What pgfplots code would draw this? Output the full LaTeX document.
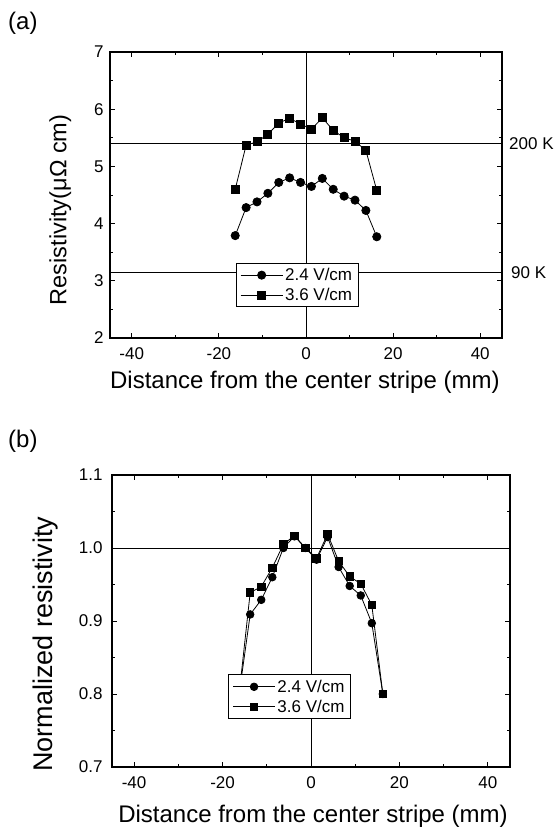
\documentclass[border=0pt]{standalone}
\usepackage{fontspec}
\setmainfont{Liberation Sans}
\usepackage{pgfplots}
\pgfplotsset{compat=1.18}
\newcommand\tickfont{\fontsize{17}{20}\selectfont}
\newcommand\labfont{\fontsize{24}{27}\selectfont}
\pgfplotsset{
  myaxis/.style={
    scale only axis,
    anchor=south west,
    xmin=-45, xmax=45,
    xtick={-40,-20,0,20,40},
    minor x tick num=1,
    axis line style={line width=1.1pt},
    every tick/.style={black, line width=0.9pt},
    major tick length=5pt, minor tick length=3pt,
    /pgf/number format/assume math mode=true,
    every tick label/.append style={font=\tickfont},
    xticklabel style={yshift=-6pt},
    every axis x label/.append style={font=\labfont},
    xlabel={Distance from the center stripe (mm)},
    legend cell align=left,
    legend style={draw=black, fill=white, line width=0.9pt, font=\tickfont, inner xsep=4pt, inner ysep=3pt, row sep=2pt, anchor=north west},
    legend image code/.code={\draw[mark repeat=2,mark phase=2] plot coordinates {(0pt,0pt) (21pt,0pt) (42pt,0pt)};},
    clip=false,
  },
  refline/.style={black, line width=0.8pt, forget plot, mark=none},
  ser/.style={black, line width=0.8pt, mark options={fill=black, solid}},
}
\begin{document}
\begin{tikzpicture}
\path[use as bounding box] (0pt,0pt) rectangle (558pt,-830pt);
\node[anchor=north west, inner sep=0pt] at (8pt,-12pt) {\fontsize{24}{26}\selectfont (a)};
\node[anchor=north west, inner sep=0pt] at (8pt,-430pt) {\fontsize{24}{26}\selectfont (b)};

\begin{axis}[myaxis, at={(110pt,-338pt)}, width=392pt, height=286pt,
  ymin=2, ymax=7, ytick={2,3,4,5,6,7}, minor y tick num=1,
  yticklabel style={xshift=-3pt},
  xlabel style={at={(axis description cs:0.497,-0.155)}, anchor=center},
  ylabel={Resistivity(μΩ cm)},
  ylabel style={font=\fontsize{23.5}{26}\selectfont, at={(axis description cs:-0.127,0.448)}, anchor=center},
  legend style={at={(0.321,0.263)}}]
\addplot[refline] coordinates {(-45,5.4) (45,5.4)};
\addplot[refline] coordinates {(-45,3.15) (45,3.15)};
\addplot[refline] coordinates {(0,2) (0,7)};
\addplot[ser, mark=*, mark size=4.1pt] coordinates {
(-16.25,3.79) (-13.75,4.28) (-11.25,4.38) (-8.75,4.53) (-6.25,4.72) (-3.75,4.80) (-1.25,4.72)
(1.25,4.65) (3.75,4.79) (6.25,4.60) (8.75,4.48) (11.25,4.41) (13.75,4.23) (16.25,3.77)};
\addplot[ser, mark=square*, mark size=4pt] coordinates {
(-16.25,4.60) (-13.75,5.37) (-11.25,5.43) (-8.75,5.56) (-6.25,5.76) (-3.75,5.84) (-1.25,5.74)
(1.25,5.65) (3.75,5.85) (6.25,5.63) (8.75,5.50) (11.25,5.44) (13.75,5.28) (16.25,4.58)};
\legend{2.4 V/cm, 3.6 V/cm}
\node[anchor=west, inner sep=0pt, xshift=7pt] at (axis cs:45,5.4) {\tickfont 200 K};
\node[anchor=west, inner sep=0pt, xshift=9pt] at (axis cs:45,3.15) {\tickfont 90 K};
\end{axis}

\begin{axis}[myaxis, at={(112pt,-767pt)}, width=398pt, height=292pt,
  ymin=0.7, ymax=1.1, ytick={0.7,0.8,0.9,1.0,1.1}, minor y tick num=1,
  yticklabel style={xshift=-6pt, /pgf/number format/fixed, /pgf/number format/fixed zerofill, /pgf/number format/precision=1},
  xlabel style={at={(axis description cs:0.505,-0.168)}, anchor=center},
  ylabel={Normalized resistivity},
  ylabel style={font=\fontsize{27}{30}\selectfont, at={(axis description cs:-0.166,0.42)}, anchor=center},
  legend style={at={(0.292,0.317)}}]
\addplot[refline] coordinates {(-45,1.0) (45,1.0)};
\addplot[refline] coordinates {(0,0.7) (0,1.1)};
\addplot[ser, mark=*, mark size=3.8pt] coordinates {
(-16.25,0.80) (-13.75,0.909) (-11.25,0.929) (-8.75,0.960) (-6.25,1.000) (-3.75,1.016) (-1.25,1.000)
(1.25,0.984) (3.75,1.015) (6.25,0.974) (8.75,0.948) (11.25,0.935) (13.75,0.897) (16.25,0.800)};
\addplot[ser, mark=square*, mark size=3.7pt] coordinates {
(-16.25,0.80) (-13.75,0.939) (-11.25,0.947) (-8.75,0.973) (-6.25,1.005) (-3.75,1.017) (-1.25,1.000)
(1.25,0.986) (3.75,1.019) (6.25,0.982) (8.75,0.961) (11.25,0.951) (13.75,0.922) (16.25,0.800)};
\legend{2.4 V/cm, 3.6 V/cm}
\end{axis}
\end{tikzpicture}
\end{document}
